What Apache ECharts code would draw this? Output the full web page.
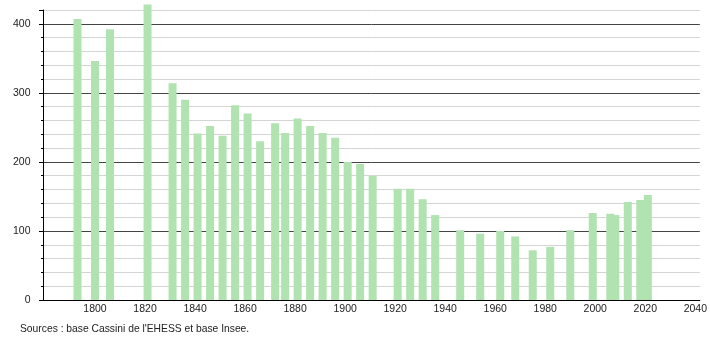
<!DOCTYPE html>
<html>
<head>
<meta charset="utf-8">
<script src="https://cdn.jsdelivr.net/npm/echarts@6/dist/echarts.min.js"></script>
<style>
html,body{margin:0;padding:0;background:#fff;}
#chart{width:710px;height:340px;}
</style>
</head>
<body>
<div id="chart"></div>
<script>
var years = [1793,1800,1806,1821,1831,1836,1841,1846,1851,1856,1861,1866,1872,1876,1881,1886,1891,1896,1901,1906,1911,1921,1926,1931,1936,1946,1954,1962,1968,1975,1982,1990,1999,2006,2008,2013,2018,2021];
var population = [407,346,392,428,314,290,241,252,238,282,270,230,256,242,263,252,242,235,200,197,180,161,161,146,123,101,96,100,92,72,77,101,126,125,123,142,145,152];
var xTickLabels = [1800,1820,1840,1860,1880,1900,1920,1940,1960,1980,2000,2020,2040];
var yTickLabels = [0,100,200,300,400];
var sourceText = "Sources : base Cassini de l'EHESS et base Insee.";

var FONT = 'Liberation Sans, Arial, sans-serif';
var chart = echarts.init(document.getElementById('chart'), null, {renderer:'canvas'});
var seriesData = years.map(function(y,i){ return [y, population[i]]; });

chart.setOption({
  animation:false,
  grid:{left:43.5, right:9, top:10, bottom:40, containLabel:false},
  xAxis:{
    type:'value', min:1779.4, max:2041.8,
    axisLine:{show:true, lineStyle:{color:'#000', width:1}},
    axisTick:{show:false},
    splitLine:{show:false},
    axisLabel:{customValues:xTickLabels, color:'#222', fontFamily:FONT, fontSize:10.5, margin:4,
      formatter:function(v){return String(v);}}
  },
  yAxis:[{
    type:'value', min:0, max:420, interval:20,
    axisLine:{show:true, lineStyle:{color:'#000', width:1}},
    axisTick:{show:true, length:2.5, lineStyle:{color:'#000'}},
    axisLabel:{show:false},
    splitLine:{show:true, lineStyle:{color:['#444','#d4d4d4','#d4d4d4','#d4d4d4','#d4d4d4'], width:1}}
  },{
    type:'value', min:0, max:420, interval:100, position:'left',
    axisLine:{show:false},
    axisTick:{show:true, length:4.5, lineStyle:{color:'#000'}},
    splitLine:{show:false},
    axisLabel:{customValues:yTickLabels, color:'#222', fontFamily:FONT, fontSize:10.5, margin:13,
      formatter:function(v){return String(v);}}
  }],
  series:[{
    type:'bar', data:seriesData, barWidth:8, clip:false,
    itemStyle:{color:'#b0e3b0'}
  }],
  graphic:[{
    type:'text', left:20, top:324,
    style:{text:sourceText, fill:'#222', font:'10.3px Liberation Sans, Arial, sans-serif'}
  }]
});
</script>
</body>
</html>
